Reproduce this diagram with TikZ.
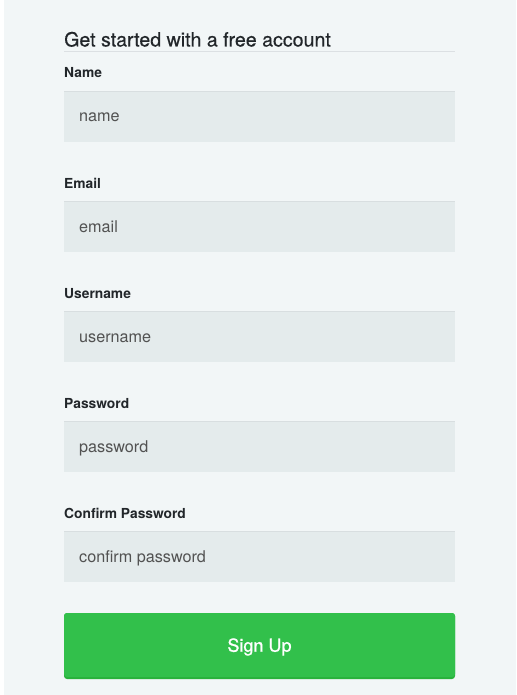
\documentclass[tikz,border=0pt]{standalone}
\usepackage{fontspec}
\setmainfont{TeX Gyre Heros}
\newfontfamily\btnfont[FakeBold=1.2]{TeX Gyre Heros}
\newfontfamily\titlefont[FakeBold=0.3]{TeX Gyre Heros}
\definecolor{panel}{RGB}{242,246,247}
\definecolor{field}{RGB}{228,235,236}
\definecolor{fieldtop}{RGB}{216,222,224}
\definecolor{rulec}{RGB}{220,224,227}
\definecolor{labelc}{RGB}{34,38,42}
\definecolor{phc}{RGB}{82,82,82}
\definecolor{btn}{RGB}{50,192,75}
\definecolor{btnedge}{RGB}{40,178,58}
\begin{document}
\begin{tikzpicture}[x=1pt,y=-1pt,
  lbl/.style={anchor=base west,inner sep=0pt,text=labelc,font=\fontsize{13.8}{16}\selectfont\bfseries},
  ph/.style={anchor=base west,inner sep=0pt,text=phc,font=\fontsize{16.2}{19}\selectfont},
]
\useasboundingbox (0,0) rectangle (516,695);
\fill[white] (0,0) rectangle (516,695);
\fill[panel] (4,0) rectangle (516,695);
% title
\node[anchor=base west,inner sep=0pt,text=labelc,font=\titlefont\fontsize{19.6}{24}\selectfont] (title) at (64,46.5) {Get started with a free account};
\coordinate (rl) at (64,52);
\coordinate (rr) at (455,52);
\draw[rulec,line width=1pt] (rl) -- (rr);
% fields
\foreach \i/\lab/\plc in {0/Name/name,1/Email/email,2/Username/username,3/Password/password,4/Confirm Password/confirm password}{
  \pgfmathsetmacro{\top}{91+110*\i}
  \node[lbl] (lab\i) at (64,\top-13) {\lab};
  \fill[field] (64,\top) rectangle (455,\top+51);
  \draw[fieldtop,line width=1pt] (64,\top+0.5) -- (455,\top+0.5);
  \node[ph] (ph\i) at (79,\top+31) {\plc};
}
% button
\fill[btnedge,rounded corners=3pt] (64,613) rectangle (455,679);
\fill[btn,rounded corners=3pt] (64,613) rectangle (455,677);
\node[anchor=base,inner sep=0pt,text=white,font=\btnfont\fontsize{18}{22}\selectfont] (signup) at (259.5,651.7) {Sign Up};
\end{tikzpicture}
\end{document}
